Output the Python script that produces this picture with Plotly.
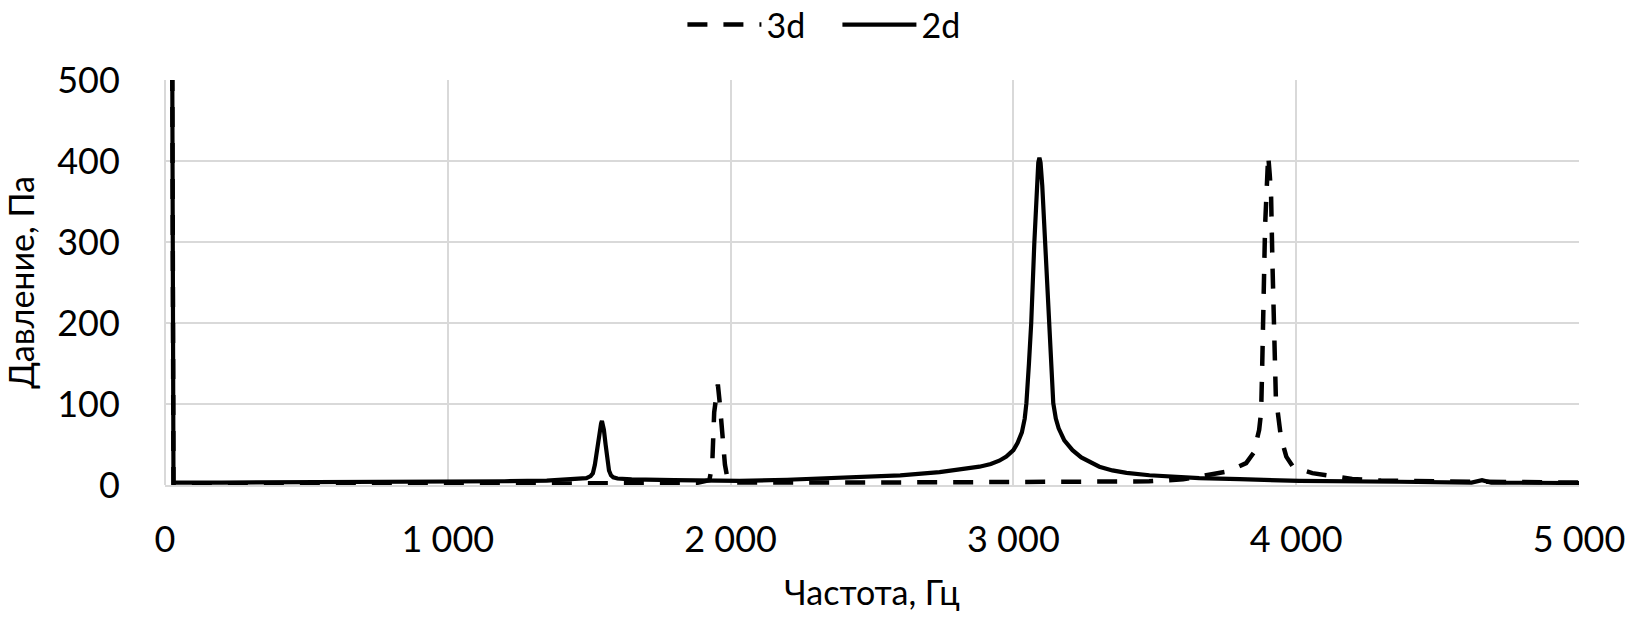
import plotly.graph_objects as go

# ---- data ----
freq_3d = [25, 30, 500, 1000, 1500, 1880, 1925, 1935, 1942, 1948, 1955, 1962, 1970, 1980, 1990, 2010,
           2500, 3000, 3300, 3480, 3600, 3693, 3760, 3823, 3850, 3869, 3876, 3880, 3885, 3890, 3895,
           3901, 3906, 3911, 3916, 3922, 3928, 3946, 3965, 3990, 4057, 4198, 4300, 4500, 4700, 5000]
p_3d = [600, 0.5, 0.8, 1.2, 1.5, 2.5, 6, 25, 90, 105, 124, 100, 60, 25, 6, 3,
        3, 3.5, 4, 4.5, 7, 12, 17, 27, 40, 68, 90, 150, 250, 320, 360,
        407, 385, 360, 274, 191, 109, 59, 35, 22, 14.6, 7.4, 5.5, 4.5, 3.5, 3]

freq_2d = [25, 30, 200, 500, 800, 1000, 1200, 1350, 1450, 1490, 1505, 1513, 1520, 1526, 1532,
           1538, 1542, 1545, 1548, 1552, 1558, 1564, 1570, 1577, 1585, 1600, 1650, 1800, 2032,
           2200, 2456, 2600, 2739, 2800, 2880, 2920, 2950, 2975, 3000, 3015, 3030, 3040, 3046,
           3055, 3063, 3074, 3082, 3088, 3092, 3096, 3102, 3113, 3127, 3141, 3150, 3160, 3180,
           3209, 3240, 3270, 3304, 3350, 3400, 3481, 3560, 3657, 3800, 3900, 4011, 4364, 4620,
           4657, 4690, 4800, 5000]
p_2d = [600, 3, 3, 3.3, 3.6, 4, 4.6, 5.5, 7, 8.5, 11, 14.5, 25, 40, 56,
        70, 76, 79, 76, 68, 50, 32, 18, 12, 9.5, 8, 7, 6, 5,
        6.5, 9.5, 12, 16, 18.5, 22.6, 26, 30, 35, 43, 52, 65, 82, 101,
        150, 200, 299, 370, 398, 404, 398, 370, 299, 200, 101, 82, 70, 55,
        43, 34, 28, 22.6, 18, 15, 12, 10, 8.6, 7.2, 6.5, 5, 4, 3,
        6, 3, 2.8, 2.5]

x_ticks = [0, 1000, 2000, 3000, 4000, 5000]
x_ticktext = ["0", "1 000", "2 000", "3 000", "4 000", "5 000"]
y_ticks = [0, 100, 200, 300, 400, 500]

FONT = "Lato, 'Noto Sans', sans-serif"
GRID = "#d9d9d9"

fig = go.Figure()
fig.add_trace(go.Scatter(x=freq_3d, y=p_3d, mode="lines", name="3d",
                         line=dict(color="black", width=4.5, dash="20px,16px")))
fig.add_trace(go.Scatter(x=freq_2d, y=p_2d, mode="lines", name="2d",
                         line=dict(color="black", width=4.2)))

fig.update_layout(
    width=1642, height=619,
    margin=dict(l=165, r=63, t=80, b=134, autoexpand=False),
    paper_bgcolor="white", plot_bgcolor="white",
    font=dict(family=FONT, size=36, color="black"),
    legend=dict(orientation="h", x=0.51, xanchor="center", xref="container",
                y=1 - 25 / 619, yanchor="middle", yref="container",
                font=dict(size=34), itemwidth=74, entrywidth=66, traceorder="normal"),
    showlegend=True,
)
fig.update_xaxes(range=[0, 5000], tickvals=x_ticks, ticktext=x_ticktext, automargin=False,
                 showgrid=True, gridcolor=GRID, gridwidth=1.5,
                 zeroline=True, zerolinecolor=GRID, zerolinewidth=1.5,
                 showline=True, linecolor=GRID, linewidth=1.5,
                 ticks="outside", ticklen=22, tickcolor="rgba(0,0,0,0)",
                 title=dict(text="Частота, Гц", font=dict(size=34), standoff=22))
fig.update_yaxes(range=[0, 500], tickvals=y_ticks, automargin=False,
                 showgrid=True, gridcolor=GRID, gridwidth=1.5,
                 zeroline=True, zerolinecolor=GRID, zerolinewidth=1.5,
                 showline=False,
                 ticks="outside", ticklen=37, tickcolor="rgba(0,0,0,0)",
                 title=dict(text="Давление, Па", font=dict(size=34), standoff=14))

fig.write_html("out.html", config={"displayModeBar": False},
               post_script="document.body.style.margin='0';document.body.style.overflow='hidden';")
